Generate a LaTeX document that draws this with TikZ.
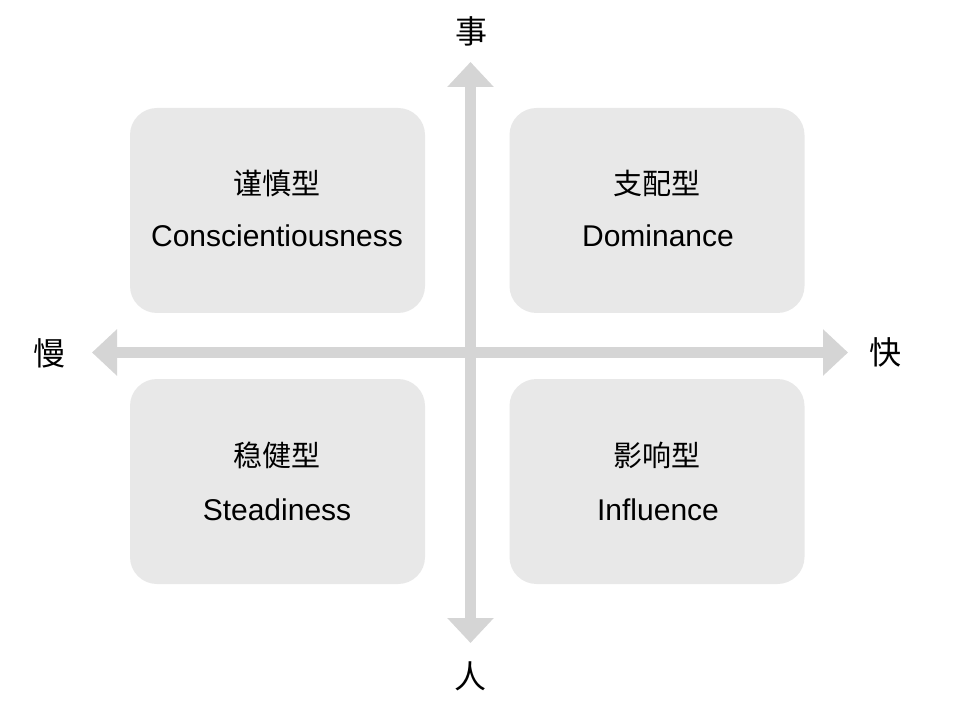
\documentclass[tikz,border=0pt]{standalone}
\usepackage{fontspec}
\setmainfont{Liberation Sans}
\newfontfamily\cjk{Noto Sans CJK SC}
\usetikzlibrary{arrows.meta}
\definecolor{axisgray}{HTML}{D5D5D5}
\definecolor{boxgray}{HTML}{E8E8E8}
\tikzset{
  quadbox/.style={fill=boxgray, draw=none, rounded corners=27pt, minimum width=295pt, minimum height=205pt, inner sep=0pt},
  cnlabel/.style={font=\cjk\fontsize{29}{32}\selectfont, inner sep=0pt},
  enlabel/.style={font=\fontsize{30}{34}\selectfont, inner sep=0pt},
  axlabel/.style={font=\cjk\fontsize{32}{36}\selectfont, inner sep=0pt},
  axis/.style={draw=axisgray, line width=11pt,
    {Triangle[length=25pt,width=45pt]}-{Triangle[length=25pt,width=45pt]}}
}
\begin{document}
\begin{tikzpicture}[x=1pt,y=-1pt]
\fill[white] (0,0) rectangle (956,711);
\useasboundingbox (0,0) rectangle (956,711);
% boxes
\node[quadbox] (bc) at (277.5,210.5) {};
\node[quadbox] (bd) at (657,210.5) {};
\node[quadbox] (bs) at (277.5,481.5) {};
\node[quadbox] (bi) at (657,481.5) {};
% axes
\coordinate (top) at (470.5,62);
\coordinate (bot) at (470.5,643);
\coordinate (lft) at (92,352.5);
\coordinate (rgt) at (848,352.5);
\draw[axis] (lft) -- (rgt);
\draw[axis] (bot) -- (top);
% axis labels
\node[axlabel] (lshi) at (471,31) {事};
\node[axlabel] (lren) at (470,676) {人};
\node[axlabel] (lman) at (50,353) {慢};
\node[axlabel] (lkuai) at (885,352) {快};
% box texts
\node[cnlabel] (tc1) at (277,183) {谨慎型};
\node[enlabel] (tc2) at (277,236) {Conscientiousness};
\node[cnlabel] (td1) at (657,183) {支配型};
\node[enlabel] (td2) at (658,236) {Dominance};
\node[cnlabel] (ts1) at (277,455) {稳健型};
\node[enlabel] (ts2) at (277,510) {Steadiness};
\node[cnlabel] (ti1) at (657,455) {影响型};
\node[enlabel] (ti2) at (658,510) {Influence};
\end{tikzpicture}
\end{document}
